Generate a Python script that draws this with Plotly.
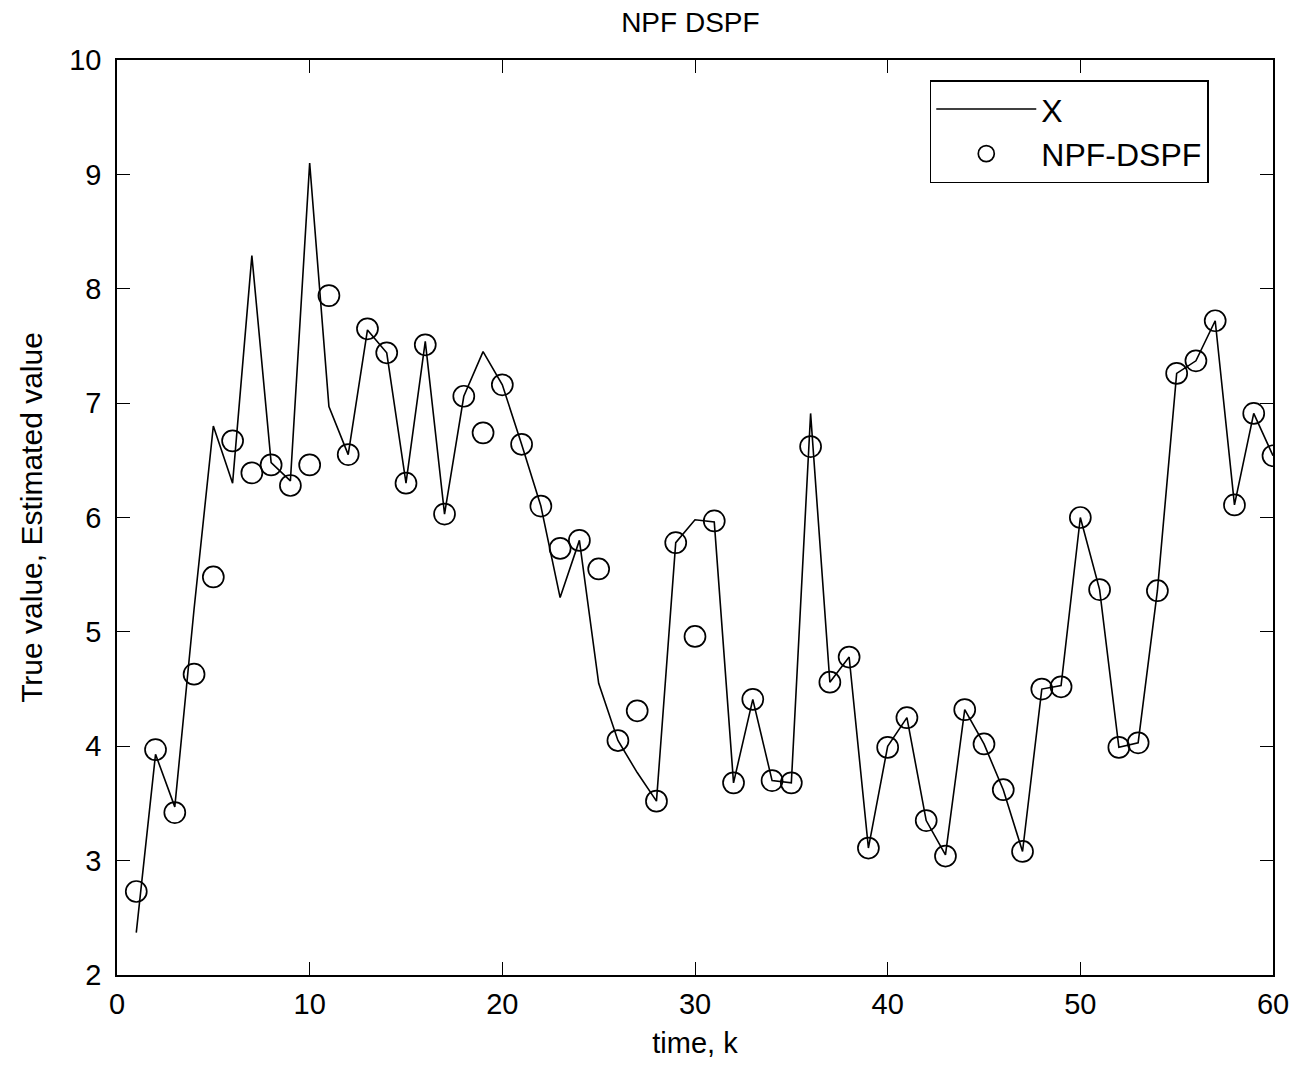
import plotly.graph_objects as go

k = list(range(1, 61))
x_true = [2.37, 3.93, 3.47, 5.20, 6.80, 6.30, 8.29, 6.48, 6.32, 9.10,
          6.97, 6.55, 7.64, 7.44, 6.30, 7.54, 6.03, 7.06, 7.45, 7.16,
          6.64, 6.10, 5.30, 5.80, 4.55, 4.05, 3.77, 3.52, 5.78, 5.98,
          5.96, 3.68, 4.41, 3.70, 3.68, 6.91, 4.56, 4.78, 3.11, 4.00,
          4.25, 3.35, 3.05, 4.32, 4.02, 3.62, 3.08, 4.50, 4.53, 6.00,
          5.37, 3.99, 4.03, 5.36, 7.26, 7.37, 7.72, 6.11, 6.91, 6.54]
x_est = [2.73, 3.97, 3.42, 4.63, 5.48, 6.67, 6.39, 6.46, 6.28, 6.46,
         7.94, 6.55, 7.65, 7.44, 6.30, 7.51, 6.03, 7.06, 6.74, 7.16,
         6.64, 6.10, 5.73, 5.80, 5.55, 4.05, 4.31, 3.52, 5.78, 4.96,
         5.97, 3.68, 4.41, 3.70, 3.68, 6.62, 4.56, 4.78, 3.11, 3.99,
         4.25, 3.35, 3.04, 4.32, 4.02, 3.62, 3.08, 4.50, 4.52, 6.00,
         5.37, 3.99, 4.03, 5.36, 7.26, 7.37, 7.72, 6.11, 6.91, 6.54]

x_ticks = [0, 10, 20, 30, 40, 50, 60]
y_ticks = [2, 3, 4, 5, 6, 7, 8, 9, 10]

FONT = "Liberation Sans, Arial, sans-serif"

fig = go.Figure()
fig.add_trace(go.Scatter(x=k, y=x_true, mode="lines", name="X",
                         line=dict(color="black", width=1.6)))
fig.add_trace(go.Scatter(x=k, y=x_est, mode="markers", name="NPF-DSPF",
                         marker=dict(symbol="circle-open", size=21,
                                     color="black", line=dict(width=1.7))))

axis_common = dict(showline=True, linecolor="black", linewidth=1.6,
                   mirror="allticks", ticks="inside", ticklen=13,
                   tickwidth=1.4, tickcolor="black", showgrid=False,
                   zeroline=False, tickfont=dict(family=FONT, size=29, color="black"))

fig.update_layout(
    width=1310, height=1074,
    margin=dict(l=117, r=37, t=60, b=99),
    paper_bgcolor="white", plot_bgcolor="white",
    title=dict(text="NPF DSPF", x=0.527, xanchor="center", y=0.979, yanchor="middle",
               font=dict(family=FONT, size=28, color="black")),
    xaxis=dict(range=[0, 60], tickvals=x_ticks, ticklabelstandoff=2, **axis_common,
               title=dict(text="time, k", standoff=14,
                          font=dict(family=FONT, size=29, color="black"))),
    yaxis=dict(range=[2, 10], tickvals=y_ticks, ticklabelstandoff=8, **axis_common,
               title=dict(text="True value, Estimated value", standoff=18,
                          font=dict(family=FONT, size=30, color="black"))),
    legend=dict(x=0.703, y=0.978, xanchor="left", yanchor="top",
                bordercolor="black", borderwidth=1.6, bgcolor="white",
                font=dict(family=FONT, size=32, color="black"),
                itemwidth=100, tracegroupgap=0,
                entrywidth=280, entrywidthmode="pixels"),
    showlegend=True,
)

fig.write_html("out.html")
